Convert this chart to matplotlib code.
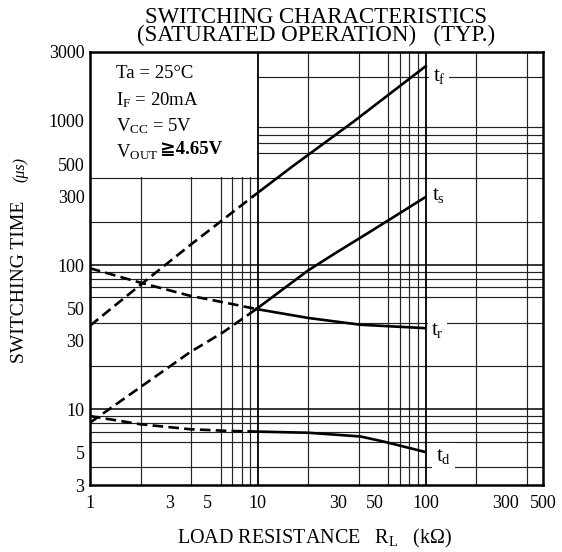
import numpy as np
import matplotlib
matplotlib.use("Agg")
import matplotlib.pyplot as plt
from matplotlib.ticker import FixedLocator, LogLocator, NullFormatter
from matplotlib.patches import Rectangle

plt.rcParams['font.family'] = ['Liberation Serif', 'DejaVu Serif', 'DejaVu Sans']
plt.rcParams['mathtext.default'] = 'regular'

# ---- data (x: load resistance kOhm, y: time us) ----
tf_dash_x = [1, 2, 4, 9.4]
tf_dash_y = [38, 73, 139, 300]
tf_x = [9.4, 16, 37, 100]
tf_y = [300, 480, 980, 2380]

ts_dash_x = [1, 2, 3.94, 6.2, 9.8]
ts_dash_y = [8.1, 14.3, 24.9, 34.2, 49.6]
ts_x = [9.8, 20, 29, 47, 99]
ts_y = [49.6, 92, 121, 171, 294]

tr_dash_x = [1, 2, 3.94, 6.6, 9.8]
tr_dash_y = [95, 75.5, 61.3, 54.5, 49.6]
tr_x = [9.8, 20, 40.9, 98]
tr_y = [49.6, 43, 38.6, 36.6]

td_dash_x = [1, 2, 3.94, 6.8, 9]
td_dash_y = [9.0, 7.9, 7.3, 7.1, 7.05]
td_x = [9, 20, 40.9, 56, 98]
td_y = [7.05, 6.9, 6.5, 6.0, 5.1]

curve_names = ['$t_f$', '$t_s$', '$t_r$', '$t_d$']
label_offsets = [(5, -10.5), (5, -2), (5, -5), (8.5, -6.5)]

xticks = [1, 3, 5, 10, 30, 50, 100, 300, 500]
yticks = [3, 5, 10, 30, 50, 100, 300, 500, 1000, 3000]

# ---- figure ----
W, H = 562, 552
fig = plt.figure(figsize=(W / 100, H / 100), dpi=100)
ax = fig.add_axes([90 / W, 1 - 485 / H, (543 - 90) / W, (485 - 51.7) / H])
ax.set_xscale('log')
ax.set_yscale('log')
ax.set_xlim(1, 500)
ax.set_ylim(3, 3000)

ax.xaxis.set_major_locator(FixedLocator(xticks))
ax.yaxis.set_major_locator(FixedLocator(yticks))
ax.set_xticklabels([str(t) for t in xticks])
ax.set_yticklabels([str(t) for t in yticks])
ax.xaxis.set_minor_locator(LogLocator(base=10, subs=np.arange(1, 10), numticks=20))
ax.yaxis.set_minor_locator(LogLocator(base=10, subs=np.arange(1, 10), numticks=20))
ax.xaxis.set_minor_formatter(NullFormatter())
ax.yaxis.set_minor_formatter(NullFormatter())
ax.tick_params(which='both', length=0)
ax.tick_params(axis='x', pad=7, labelsize=13)
ax.tick_params(axis='y', pad=4, labelsize=13)

ax.set_axisbelow(True)
ax.grid(which='minor', color='#222222', linewidth=0.85)
for v in [10, 100]:
    ax.axvline(v, color='black', linewidth=1.3, zorder=0.6)
    ax.axhline(v, color='black', linewidth=1.1, zorder=0.6)
for s in ax.spines.values():
    s.set_linewidth(1.8)

# condition box (white area in upper left)
ax.add_patch(Rectangle((1, 405), 8.9, 2600, facecolor='white', edgecolor='none', zorder=1))

dash = (0, (4, 2))
lw = 1.9
ax.plot(tf_dash_x, tf_dash_y, color='black', lw=lw, ls=dash, zorder=3)
ax.plot(tf_x, tf_y, color='black', lw=lw, zorder=3)
ax.plot(ts_dash_x, ts_dash_y, color='black', lw=lw, ls=dash, zorder=3)
ax.plot(ts_x, ts_y, color='black', lw=lw, zorder=3)
ax.plot(tr_dash_x, tr_dash_y, color='black', lw=lw, ls=dash, zorder=3)
ax.plot(tr_x, tr_y, color='black', lw=lw, zorder=3)
ax.plot(td_dash_x, td_dash_y, color='black', lw=lw, ls=dash, zorder=3)
ax.plot(td_x, td_y, color='black', lw=lw, zorder=3)

ends = [(tf_x[-1], tf_y[-1]), (ts_x[-1], ts_y[-1]), (tr_x[-1], tr_y[-1]), (td_x[-1], td_y[-1])]
for name, (ex, ey), off in zip(curve_names, ends, label_offsets):
    ax.annotate(name, (ex, ey), xytext=off, textcoords='offset points',
                ha='left', va='baseline', fontsize=15, zorder=4,
                bbox=dict(facecolor='white', edgecolor='none', pad=2.5))

# conditions text
def fx(px):
    return px / W

def fy(py):
    return 1 - py / H

fig.text(fx(116.5), fy(74), 'Ta = 25°C', fontsize=13.5, va='center')
fig.text(fx(116.5), fy(100), '$I_F$ = 20mA', fontsize=13.5, va='center')
fig.text(fx(116.5), fy(126), '$V_{CC}$ = 5V', fontsize=13.5, va='center')
vout = fig.text(fx(116.5), fy(152), '$V_{OUT}$', fontsize=13.5, va='center')
fig.canvas.draw()
bb = vout.get_window_extent(fig.canvas.get_renderer())
fig.text(bb.x1 / W + 0.002, fy(150), '≧4.65V', fontsize=13.5, va='center', fontweight='bold',
         family=['Liberation Serif', 'DejaVu Sans'])

# titles and axis labels
fig.text(fx(316), fy(26.5), 'SWITCHING CHARACTERISTICS\n(SATURATED OPERATION)   (TYP.)',
         fontsize=16.5, ha='center', va='center', multialignment='center', linespacing=0.85)
fig.text(fx(20), fy(282), 'SWITCHING TIME', fontsize=14, rotation=90, ha='center', va='center')
fig.text(fx(20), fy(169), '(μs)', fontsize=11.5, rotation=90, ha='center', va='center', style='italic')
fig.text(fx(315), fy(538), 'LOAD RESISTANCE   $R_L$   (kΩ)', fontsize=14.5, ha='center', va='center')

fig.savefig('out.png', dpi=100)
